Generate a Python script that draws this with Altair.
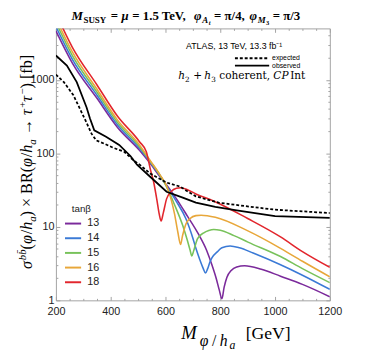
import altair as alt
import pandas as pd

# ---------------- data ----------------
TANB = ["13", "14", "15", "16", "18"]
COLORS = ["#7b2a9b", "#3b7ad6", "#78c25b", "#e8a73a", "#e2262d"]

M_13 = [200, 260, 350, 425, 505, 544, 580, 604, 640, 680, 720, 750, 770, 785, 796, 806, 814, 824, 840, 860, 889, 950, 1020, 1100, 1200]
V_13 = [4640, 1690, 560, 225, 110, 73, 48, 37, 24, 14, 8.0, 4.8, 3.0, 2.0, 1.4, 1.05, 1.5, 2.05, 2.55, 2.85, 2.96, 2.65, 2.13, 1.65, 1.12]

M_14 = [200, 260, 350, 425, 505, 544, 580, 604, 640, 675, 700, 711, 725, 738, 746, 754, 762, 770, 790, 806, 836, 870, 920, 1020, 1100, 1200]
V_14 = [5290, 1900, 616, 243, 117, 76, 50, 36, 22, 12.8, 7.0, 5.1, 3.6, 2.7, 2.35, 2.7, 3.3, 3.8, 4.6, 5.2, 5.5, 5.2, 4.4, 3.05, 2.2, 1.41]

M_15 = [200, 260, 350, 425, 505, 544, 580, 604, 633, 663, 680, 690, 696, 702, 710, 717, 740, 758, 776, 800, 850, 901, 1020, 1100, 1200]
V_15 = [6030, 2140, 678, 263, 123, 78, 50, 35, 20, 10.4, 6.5, 4.8, 4.0, 4.6, 5.8, 6.9, 8.3, 8.9, 9.2, 9.0, 7.6, 6.2, 3.94, 2.7, 1.74]

M_16 = [200, 260, 350, 425, 505, 544, 580, 604, 620, 633, 645, 655, 662, 675, 690, 711, 730, 782, 901, 1020, 1100, 1200]
V_16 = [6820, 2390, 743, 283, 130, 80, 51, 36, 24, 15, 8.5, 5.75, 7.5, 11, 13.0, 14.2, 14.4, 13.5, 8.8, 5.1, 3.4, 2.09]

M_18 = [200, 260, 350, 425, 505, 530, 545, 556, 568, 577, 584, 592, 604, 620, 640, 655, 680, 711, 775, 900, 1020, 1100, 1200]
V_18 = [7980, 2770, 850, 319, 144, 105, 60, 42, 24, 15, 12, 15.5, 24, 30, 33.5, 34, 32, 28, 22.5, 13, 7.3, 4.6, 2.81]

M_OBS = [200, 240, 276, 312, 324, 340, 383, 431, 472, 496, 544, 604, 663, 711, 782, 860, 1000, 1200]
V_OBS = [2140, 1560, 930, 420, 300, 205, 168, 130, 92, 70, 48, 30, 25, 21.3, 18.7, 16.8, 14.0, 13.2]

M_EXP = [200, 229, 264, 288, 312, 330, 347, 377, 407, 449, 484, 510, 544, 604, 651, 711, 794, 889, 1000, 1200]
V_EXP = [1180, 930, 615, 400, 260, 185, 150, 135, 120, 105, 80, 68, 53, 40, 35.5, 26, 21.3, 19.2, 17.1, 15.4]

X_MAJOR = [200, 400, 600, 800, 1000, 1200]
X_MINOR = [250, 300, 350, 450, 500, 550, 650, 700, 750, 850, 900, 950, 1050, 1100, 1150]
Y_MAJOR = [1, 10, 100, 1000]
Y_MINOR = [2, 3, 4, 5, 6, 7, 8, 9, 20, 30, 40, 50, 60, 70, 80, 90,
           200, 300, 400, 500, 600, 700, 800, 900, 2000, 3000, 4000]

SERIES = {"13": (M_13, V_13), "14": (M_14, V_14), "15": (M_15, V_15),
          "16": (M_16, V_16), "18": (M_18, V_18)}

rows = []
for tb, (ms, vs) in SERIES.items():
    for m, v in zip(ms, vs):
        rows.append({"M": m, "v": v, "tb": tb})
df_c = pd.DataFrame(rows)
df_obs = pd.DataFrame({"M": M_OBS, "v": V_OBS})
df_exp = pd.DataFrame({"M": M_EXP, "v": V_EXP})

# ---------------- styling ----------------
FRAME = "#a3a3a3"
LABEL = "#222222"
SERIF = "Liberation Serif"
SANS = "Liberation Sans"

xscale = alt.Scale(domain=[200, 1200], nice=False, zero=False)
yscale = alt.Scale(type="log", domain=[1, 5000], nice=False)


def ax(orient, values, size, labels, pad=3):
    kw = dict(orient=orient, values=values, tickSize=size, offset=-size,
              domain=False, grid=False, title=None, tickColor=FRAME,
              tickWidth=1, labels=labels)
    if labels:
        kw.update(labelFont=SANS, labelFontSize=11, labelColor=LABEL,
                  labelPadding=pad, labelFlush=False, labelOverlap=False,
                  labelExpr="format(datum.value, 'd')")
    return alt.Axis(**kw)


def axis_layer(xa, ya):
    return alt.Chart(df_obs).mark_point(opacity=0).encode(
        x=alt.X("M:Q", scale=xscale, axis=xa),
        y=alt.Y("v:Q", scale=yscale, axis=ya))


axes_layers = [
    axis_layer(ax("bottom", X_MAJOR, 4, True, 5.5), ax("left", Y_MAJOR, 4, True, 2)),
    axis_layer(ax("bottom", X_MINOR, 2, False), ax("left", Y_MINOR, 2, False)),
    axis_layer(ax("top", X_MAJOR, 4, False), ax("right", Y_MAJOR, 4, False)),
    axis_layer(ax("top", X_MINOR, 2, False), ax("right", Y_MINOR, 2, False)),
]

colored = alt.Chart(df_c).mark_line(strokeWidth=1.6, clip=True, interpolate="monotone").encode(
    x=alt.X("M:Q", scale=xscale, axis=None),
    y=alt.Y("v:Q", scale=yscale, axis=None),
    color=alt.Color("tb:N", scale=alt.Scale(domain=TANB, range=COLORS), sort=TANB,
                    legend=alt.Legend(title="tanβ", orient="none", legendX=8, legendY=180,
                                      symbolType="stroke", symbolSize=272, symbolStrokeWidth=2,
                                      labelFont=SANS, labelFontSize=11, labelColor=LABEL,
                                      titleFont=SANS, titleFontSize=10, titleFontWeight="normal",
                                      titleColor=LABEL, titlePadding=0, padding=0,
                                      labelOffset=5, rowPadding=0, titleAnchor="middle")),
)

obs = alt.Chart(df_obs).mark_line(color="black", strokeWidth=1.8, clip=True).encode(
    x=alt.X("M:Q", scale=xscale, axis=None), y=alt.Y("v:Q", scale=yscale, axis=None))
exp = alt.Chart(df_exp).mark_line(color="black", strokeWidth=1.8, strokeDash=[3, 2], clip=True).encode(
    x=alt.X("M:Q", scale=xscale, axis=None), y=alt.Y("v:Q", scale=yscale, axis=None))

# ---------------- text helpers ----------------
W = {" ": .25, "=": .564, "+": .564, "×": .564, "−": .564, "→": 1.0,
     "/": .278, ".": .25, ",": .25, "(": .333, ")": .333, "[": .333, "]": .333,
     "M": .889, "S": .556, "U": .722, "Y": .722, "T": .611, "e": .444, "V": .722,
     "A": .722, "t": .278, "B": .667, "R": .667, "G": .722, "h": .5, "a": .5,
     "b": .5, "f": .333, "c": .444, "o": .5, "r": .333, "n": .5, "I": .333,
     "C": .667, "P": .556, "σ": .55, "φ": .6, "τ": .45, "μ": .55, "π": .55,
     "β": .5, "\u0304": 0.0}


def tw(s, size, weight="normal", factor=1.0):
    w = 0.0
    for ch in s:
        if ch in W:
            w += W[ch]
        elif ch.isdigit():
            w += .5
        elif ch.isupper():
            w += .7
        else:
            w += .5
    return w * size * factor * (1.05 if weight == "bold" else 1.0)


ONE = alt.Data(values=[{"k": 1}])


def text_layer(t, x, y, size, style="normal", weight="normal", angle=0,
               font=SERIF, color="black", baseline="alphabetic", align="left"):
    kw = dict(text=t, font=font, fontSize=size, fontStyle=style, fontWeight=weight,
              align=align, baseline=baseline, color=color)
    if angle:
        kw["angle"] = angle
    return alt.Chart(ONE).mark_text(**kw).encode(x=alt.value(x), y=alt.value(y))


def runs_layers(runs, x0, y0, target, rotate=False, font=SERIF, factor=1.0):
    total = sum(tw(t, s, w, factor) for (t, s, st, w, sh) in runs)
    k = target / total
    out = []
    pos = 0.0
    for t, s, st, w, sh in runs:
        size = s * k
        core = t.strip(" ")
        lead = t[: len(t) - len(t.lstrip(" "))]
        trail = t[len(t.rstrip(" ")):]
        pos += tw(lead, size, w, factor)
        if rotate:
            out.append(text_layer(core, x0 + sh * k, y0 - pos, size, st, w, angle=270, font=font))
        else:
            out.append(text_layer(core, x0 + pos, y0 + sh * k, size, st, w, font=font))
        pos += tw(core, size, w, factor) + tw(trail, size, w, factor)
    return out


title_runs = [
    ("M", 13, "italic", "bold", 0), ("SUSY", 9, "normal", "bold", 3),
    (" = ", 13, "normal", "bold", 0), ("μ", 13, "italic", "bold", 0),
    (" = 1.5 TeV, ", 13, "normal", "bold", 0),
    ("φ", 13, "italic", "bold", 0), ("A", 9, "italic", "bold", 3), ("t", 6.5, "italic", "bold", 5),
    (" = π/4, ", 13, "normal", "bold", 0),
    ("φ", 13, "italic", "bold", 0), ("M", 9, "italic", "bold", 3), ("3", 6.5, "normal", "bold", 5),
    (" = π/3", 13, "normal", "bold", 0),
]

ytitle_runs = [
    ("σ", 15, "italic", "normal", 0), ("bb\u0304", 10, "italic", "normal", -6),
    ("(", 15, "normal", "normal", 0), ("φ", 15, "italic", "normal", 0),
    ("/", 15, "normal", "normal", 0), ("h", 15, "italic", "normal", 0),
    ("a", 10, "italic", "normal", 3),
    (") × BR(", 15, "normal", "normal", 0), ("φ", 15, "italic", "normal", 0),
    ("/", 15, "normal", "normal", 0), ("h", 15, "italic", "normal", 0),
    ("a", 10, "italic", "normal", 3),
    (" → ", 15, "normal", "normal", 0),
    ("τ", 15, "italic", "normal", 0), ("+", 10, "normal", "normal", -6),
    ("τ", 15, "italic", "normal", 0), ("−", 10, "normal", "normal", -6),
    (") [fb]", 15, "normal", "normal", 0),
]

h_runs = [
    ("h", 11, "italic", "normal", 0), ("2", 7.5, "normal", "normal", 2.5),
    (" + ", 11, "normal", "normal", 0),
    ("h", 11, "italic", "normal", 0), ("3", 7.5, "normal", "normal", 2.5),
    (" coherent, ", 11, "normal", "normal", 0),
    ("CP", 11, "italic", "normal", 0), ("Int", 11, "normal", "normal", 0),
]

texts = []
texts += runs_layers(title_runs, 16, -8.5, 235)
texts += runs_layers(ytitle_runs, -24, 246, 219, rotate=True)
texts += runs_layers(h_runs, 125, 52, 130, font="DejaVu Serif", factor=1.3)
# x-axis title
texts += [
    text_layer("M", 128, 318, 19, "italic"),
    text_layer("φ", 147, 325, 16, "italic"),
    text_layer("/", 159.5, 325, 16),
    text_layer("h", 167.5, 325, 16, "italic"),
    text_layer("a", 177.5, 327.5, 12, "italic"),
    text_layer("[GeV]", 194, 318, 18),
]
texts += [
    text_layer("ATLAS, 13 TeV, 13.3 fb⁻¹", 133, 18, 9, font=SANS, baseline="middle"),
    text_layer("expected", 221, 30.5, 7, font=SANS, baseline="middle"),
    text_layer("observed", 221, 38, 7, font=SANS, baseline="middle"),
]

key_exp = alt.Chart(ONE).mark_rule(color="black", strokeWidth=1.8, strokeDash=[3, 2]).encode(
    x=alt.value(183), x2=alt.value(218), y=alt.value(30.5))
key_obs = alt.Chart(ONE).mark_rule(color="black", strokeWidth=1.8).encode(
    x=alt.value(183), x2=alt.value(218), y=alt.value(38))

chart = alt.layer(*axes_layers, colored, exp, obs, key_exp, key_obs, *texts).resolve_axis(
    x="independent", y="independent"
).properties(
    width=280, height=278,
    autosize=alt.AutoSizeParams(type="none"),
    padding={"left": 49, "top": 17, "right": 38, "bottom": 52},
).configure_view(stroke=FRAME, strokeWidth=1)

chart.save("out.html", embed_options={"renderer": "svg", "actions": False})
